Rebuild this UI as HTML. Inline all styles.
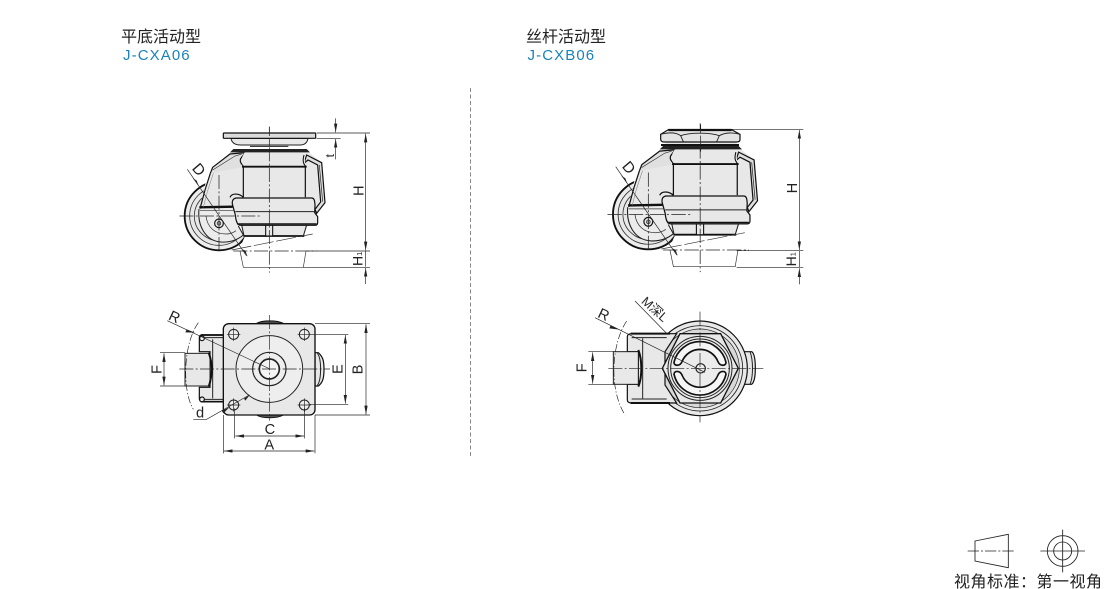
<!DOCTYPE html>
<html><head><meta charset="utf-8"><style>
html,body{margin:0;padding:0;background:#fff}
svg{display:block}
text{font-family:"Liberation Sans","Noto Sans CJK SC",sans-serif}
</style></head><body>
<svg width="1110" height="589" viewBox="0 0 1110 589" xmlns="http://www.w3.org/2000/svg">
<defs>
<marker id="a" markerUnits="userSpaceOnUse" markerWidth="30" markerHeight="12" refX="26" refY="5" orient="auto-start-reverse"><path d="M0,0 L26,5 L0,10 Z" fill="#222"/></marker>
<clipPath id="wc"><path d="M95,205 H170 L150,290 L262,345 L282,385 L262,432 H95 Z"/></clipPath>
<g id="body">
  <!-- wheel -->
  <g clip-path="url(#wc)">
    <circle cx="207" cy="318" r="103" fill="#ececec" stroke="#111" stroke-width="5.5"/>
    <circle cx="207" cy="318" r="88" fill="#e8e8e8" stroke="#333" stroke-width="2.5"/>
    <circle cx="207" cy="318" r="74" fill="#e8e8e8" stroke="#333" stroke-width="2.5"/>
  </g>
  <!-- arm grey mass -->
  <path d="M150,292 L183,188 L240,128 L478,128 L515,158 L525,278 L498,312 L270,346 L250,300 Z" fill="#e8e8e8"/>
  <!-- fork under strip -->
  <path d="M147,295 H248 L268,352 L280,375 C262,392 235,398 210,396 C165,390 142,345 147,295 Z" fill="#ececec"/>
  <path d="M147,297 C142,345 165,392 212,396 C240,398 262,390 280,375" fill="none" stroke="#222" stroke-width="3.2"/>
  <path d="M280,375 L265,348" stroke="#222" stroke-width="3.2"/>
  <path d="M264,404 L283,382" stroke="#222" stroke-width="3"/>
  <path d="M148,292 L248,290" stroke="#111" stroke-width="7"/>
  <path d="M150,302 H250" stroke="#333" stroke-width="2"/>
  <path d="M168,318 C172,352 195,372 228,372 C240,372 250,368 258,362" fill="none" stroke="#333" stroke-width="2.2"/>
  <circle cx="207" cy="340" r="13" fill="#e8e8e8" stroke="#111" stroke-width="3.5"/>
  <circle cx="207" cy="340" r="5.5" fill="#aaa" stroke="#222" stroke-width="2"/>
  <!-- arm outlines -->
  <path d="M150,296 L165,240 L181,190" fill="none" stroke="#111" stroke-width="3.6"/>
  <path d="M160,292 L172,245 L190,190" fill="none" stroke="#777" stroke-width="1.5"/>
  <path d="M181,190 L188,172 L240,132 L285,128 L272,146 C268,155 275,165 285,170" fill="#e0e0e0" stroke="#111" stroke-width="3.6"/>
  <path d="M188,180 L255,138 L275,132" stroke="#333" stroke-width="2" fill="none"/>
  <!-- right clip -->
  <path d="M470,135 L515,158 L525,278 L500,310 L495,298 L512,276 L503,165 L474,150 L462,160 Z" fill="#e0e0e0" stroke="#111" stroke-width="3.6"/>
  <path d="M508,165 L518,275" stroke="#222" stroke-width="2" fill="none"/>
  <!-- neck -->
  <path d="M285,126 C268,150 275,165 285,170 H462 C472,165 458,150 470,126 Z" fill="#e8e8e8"/>
  <path d="M240,127 L250,117 H470 L480,127 Z" fill="#222"/>
  <path d="M280,170 V262 M466,170 V262" stroke="#111" stroke-width="3.6"/>
  <path d="M276,170 H470" stroke="#111" stroke-width="5.5"/>
  <path d="M462,135 C458,150 458,160 468,170" fill="none" stroke="#111" stroke-width="3.2"/>
  <!-- lower -->
  <path d="M275,345 H470 L460,378 H282 Z" fill="#e8e8e8" stroke="#222" stroke-width="3.2"/>
  <path d="M280,378 H463" stroke="#111" stroke-width="5.5"/>
  <rect x="347" y="345" width="21" height="33" fill="#e8e8e8" stroke="#111" stroke-width="3.2"/>
  <!-- band -->
  <path d="M246,278 C246,264 254,262 265,262 H485 C492,262 494,268 495,285 L494,308 L503,320 V340 C503,345 500,346 495,346 H272 C262,346 258,335 256,315 Z" fill="#e8e8e8"/>
  <path d="M240,262 C246,248 268,250 280,262 M256,264 H485 C492,264 494,270 495,285 L494,308 L503,320 V338 C503,345 500,346 495,346 H272 C262,346 258,335 256,315 L247,282 C246,270 250,266 258,264" fill="none" stroke="#111" stroke-width="3.6"/>
  <path d="M256,305 H500" stroke="#222" stroke-width="3"/>
  <path d="M262,342 H500" stroke="#111" stroke-width="4.5"/>
  <!-- centre lines -->
  <path d="M207,195 V425 M88,318 H330" stroke="#222" stroke-width="2.2" stroke-dasharray="42 7 6 7" fill="none"/>
  <path d="M358,50 V488" stroke="#222" stroke-width="2.2" stroke-dasharray="42 7 6 7" fill="none"/>
  <!-- under ground -->
  <path d="M245,420 L488,372" stroke="#333" stroke-width="2" stroke-dasharray="60 8" fill="none"/>
  <path d="M250,423 H500" stroke="#222" stroke-width="2.2" stroke-dasharray="42 7 6 7" fill="none"/>
  <path d="M270,423 L280,472 H460 L468,423" stroke="#333" stroke-width="2" fill="none"/>
  <path d="M112,178 L290,438" stroke="#222" stroke-width="2" fill="none"/>
  <path d="M146,228 L128,204 L140,212 Z" fill="#222"/>
  <path d="M293,440 L277,418 L286,422 Z" fill="#222"/>
</g>
</defs>

<!-- headings -->
<text x="121" y="42" font-size="16" fill="#222">平底活动型</text>
<text x="123" y="60" font-size="15" letter-spacing="1.1" fill="#1c82bb">J-CXA06</text>
<text x="526" y="42" font-size="16" fill="#222">丝杆活动型</text>
<text x="527.5" y="60" font-size="15" letter-spacing="1.1" fill="#1c82bb">J-CXB06</text>

<path d="M470.5,88 V456" stroke="#888" stroke-width="1" stroke-dasharray="4 2.5"/>

<!-- TOP LEFT -->
<g transform="translate(150,110) scale(.33333)">
  <use href="#body"/>
  <path d="M243,85 C245,98 255,105 272,105 H450 C465,105 472,98 474,85 Z" fill="#e8e8e8" stroke="#222" stroke-width="3"/>
  <path d="M300,109 H415" stroke="#222" stroke-width="3"/>
  <rect x="220" y="69" width="277" height="16" rx="2" fill="#dcdcdc" stroke="#111" stroke-width="3.6"/>
  <path d="M358,50 V108" stroke="#222" stroke-width="2.2" stroke-dasharray="28 6" fill="none"/>
  <g stroke="#222" stroke-width="2" fill="none">
    <path d="M500,69 H660 M500,85 H572 M470,423 H660 M460,472 H660"/>
    <path d="M647,71 V421" marker-start="url(#a)" marker-end="url(#a)"/>
    <path d="M647,474 V522" marker-start="url(#a)"/>
    <path d="M647,423 V470"/>
    <path d="M557,25 V67" marker-end="url(#a)"/>
    <path d="M557,87 V148" marker-start="url(#a)"/>
  </g>
  <text transform="translate(640,258) rotate(-90)" font-size="44" fill="#222">H</text>
  <text transform="translate(638,468) rotate(-90)" font-size="42" fill="#222">H<tspan font-size="22" dy="-2">1</tspan></text>
  <text transform="translate(552,142) rotate(-90)" font-size="36" fill="#222">t</text>
  <text transform="translate(124,176) rotate(50)" font-size="46" fill="#222">D</text>
</g>

<!-- TOP RIGHT -->
<g transform="translate(590,115) scale(.33333)">
  <use href="#body" transform="translate(175,298) scale(1.03,1.02) translate(-207,-318)"/>
  <path d="M220,88 L238,80 H440 V88 Z" fill="#e8e8e8"/>
  <path d="M213,90 H447" stroke="#111" stroke-width="6"/>
  <path d="M235,44 H425 L450,58 V74 C450,80 445,81 440,81 H222 C215,81 212,78 212,72 V58 Z" fill="#e4e4e4" stroke="#111" stroke-width="3.6"/>
  <path d="M235,45 H425" stroke="#111" stroke-width="7"/>
  <path d="M212,58 C235,52 258,52 272,62 L280,80 M272,62 C300,52 360,52 388,62 L380,80 M388,62 C405,52 430,52 450,58" fill="none" stroke="#222" stroke-width="2.8"/>
  <path d="M332,28 V110" stroke="#222" stroke-width="2.2" stroke-dasharray="28 6" fill="none"/>
  <g stroke="#222" stroke-width="2" fill="none">
    <path d="M425,43 H640 M440,407 H640 M440,458 H640"/>
    <path d="M628,45 V405" marker-start="url(#a)" marker-end="url(#a)"/>
    <path d="M628,460 V508" marker-start="url(#a)"/>
    <path d="M628,407 V456"/>
  </g>
  <text transform="translate(621,235) rotate(-90)" font-size="44" fill="#222">H</text>
  <text transform="translate(618,454) rotate(-90)" font-size="42" fill="#222">H<tspan font-size="22" dy="-2">1</tspan></text>
  <text transform="translate(94,155) rotate(50)" font-size="46" fill="#222">D</text>
</g>

<!-- BOTTOM LEFT -->
<g transform="translate(140,300) scale(.33333)">
  <path d="M350,70 C365,60 412,60 430,70 Z M350,345 C365,356 412,356 430,345 Z" fill="#555" stroke="#111" stroke-width="3"/>
  <path d="M525,158 H535 C548,170 552,180 552,208 C552,235 548,248 535,258 H525 Z" fill="#e8e8e8" stroke="#111" stroke-width="3.6"/>
  <path d="M532,160 C545,175 545,240 532,256" fill="none" stroke="#222" stroke-width="3"/>
  <path d="M178,112 C178,106 182,105 188,105 H252 V305 H188 C180,305 178,302 178,296 V262 H210 V155 H178 Z" fill="#e8e8e8" stroke="#111" stroke-width="3.6"/>
  <path d="M188,113 H252 M188,298 H252 M218,118 V295" stroke="#222" stroke-width="3" fill="none"/>
  <path d="M182,105 H250 M182,305 H250" stroke="#111" stroke-width="5"/>
  <circle cx="186" cy="115" r="7" fill="#eee" stroke="#111" stroke-width="3.5"/>
  <circle cx="186" cy="298" r="7" fill="#eee" stroke="#111" stroke-width="3.5"/>
  <rect x="135" y="160" width="75" height="98" fill="#e8e8e8" stroke="#222" stroke-width="3"/>
  <path d="M206,158 C218,190 218,225 206,260" fill="none" stroke="#111" stroke-width="6"/>
  <rect x="250" y="71" width="275" height="274" rx="16" fill="#e8e8e8" stroke="#111" stroke-width="4"/>
  <g fill="#eee" stroke="#222" stroke-width="3">
    <circle cx="281" cy="103" r="15"/><circle cx="493" cy="103" r="15"/>
    <circle cx="281" cy="315" r="15"/><circle cx="493" cy="315" r="15"/>
    <circle cx="388" cy="207" r="100"/>
    <circle cx="388" cy="207" r="50" stroke-width="3.6"/>
    <circle cx="388" cy="207" r="30" fill="#f4f4f4" stroke-width="5"/>
  </g>
  <g stroke="#222" stroke-width="2" fill="none">
    <path d="M261,103 H301 M281,83 V123 M473,103 H513 M493,83 V123 M261,315 H301 M281,295 V335 M473,315 H513 M493,295 V335"/>
    <path d="M118,207 H570 M388,45 V362" stroke-dasharray="42 7 6 7"/>
    <path d="M60,158 H135 M60,258 H135"/>
    <path d="M72,160 V256" marker-start="url(#a)" marker-end="url(#a)"/>
    <path d="M525,71 H690 M525,345 H690 M510,103 H625 M510,313 H625"/>
    <path d="M678,73 V343" marker-start="url(#a)" marker-end="url(#a)"/>
    <path d="M616,105 V311" marker-start="url(#a)" marker-end="url(#a)"/>
    <path d="M250,345 V460 M525,345 V460 M284,325 V415 M494,325 V415"/>
    <path d="M286,408 H492" marker-start="url(#a)" marker-end="url(#a)"/>
    <path d="M252,453 H523" marker-start="url(#a)" marker-end="url(#a)"/>
    <path d="M82,62 L390,207"/>
    <path d="M175,68 C130,130 125,270 160,328" stroke-dasharray="22 6 4 6"/>
    <path d="M160,358 H200 L328,285"/>
  </g>
  <path d="M165,98 L140,88 L136,97 Z" fill="#222"/>
  <path d="M268,322 L245,332 L250,340 Z" fill="#222"/>
  <path d="M330,284 L312,296 L316,302 Z" fill="#222"/>
  <text x="88" y="66" font-size="44" transform="rotate(25 105 50)" fill="#222">R</text>
  <text x="168" y="353" font-size="44" fill="#222">d</text>
  <text x="374" y="402" font-size="44" fill="#222">C</text>
  <text x="373" y="448" font-size="44" fill="#222">A</text>
  <text transform="translate(64,222) rotate(-90)" font-size="44" fill="#222">F</text>
  <text transform="translate(607,222) rotate(-90)" font-size="44" fill="#222">E</text>
  <text transform="translate(668,223) rotate(-90)" font-size="44" fill="#222">B</text>
</g>

<!-- BOTTOM RIGHT -->
<g transform="translate(570,285) scale(.33333)">
  <path d="M510,200 H545 C553,205 556,225 556,250 C556,275 553,292 545,298 H510 Z" fill="#e8e8e8" stroke="#111" stroke-width="3.6"/>
  <path d="M540,200 C550,225 550,275 540,298" fill="none" stroke="#222" stroke-width="3"/>
  <circle cx="390" cy="250" r="142" fill="#e8e8e8" stroke="#111" stroke-width="3.6"/>
  <circle cx="390" cy="250" r="128" fill="#e8e8e8" stroke="#222" stroke-width="2.6"/>
  <circle cx="390" cy="250" r="118" fill="#d8d8d8" stroke="#222" stroke-width="2"/>
  <path d="M172,155 C172,148 178,146 185,146 H320 L285,200 V300 L320,354 H185 C178,354 172,352 172,345 V298 H205 V200 H172 Z" fill="#e8e8e8" stroke="#111" stroke-width="3.6"/>
  <path d="M182,146 H300 M182,354 H300" stroke="#111" stroke-width="6"/>
  <path d="M185,158 H290 M185,342 H290 M218,160 V340" stroke="#222" stroke-width="3" fill="none"/>
  <rect x="130" y="200" width="75" height="98" fill="#e8e8e8" stroke="#222" stroke-width="3"/>
  <path d="M205,195 C217,225 217,275 205,305" fill="none" stroke="#111" stroke-width="6"/>
  <path d="M330,146 H452 L505,250 L452,354 H330 L277,250 Z" fill="#e8e8e8" stroke="#111" stroke-width="4"/>
  <circle cx="390" cy="250" r="96" fill="#e8e8e8" stroke="#222" stroke-width="3"/>
  <circle cx="390" cy="250" r="88" fill="#ececec" stroke="#222" stroke-width="3"/>
  <path d="M312,232 A80,80 0 0 1 468,232 C468,244 450,244 444,230 A58,58 0 0 0 336,230 C330,244 312,244 312,232 Z" fill="#f6f6f6" stroke="#111" stroke-width="5"/>
  <path d="M312,268 A80,80 0 0 0 468,268 C468,256 450,256 444,270 A58,58 0 0 1 336,270 C330,256 312,256 312,268 Z" fill="#f6f6f6" stroke="#111" stroke-width="5"/>
  <circle cx="392" cy="250" r="14" fill="#eee" stroke="#222" stroke-width="3.6"/>
  <g stroke="#222" stroke-width="2" fill="none">
    <path d="M115,250 H580 M390,80 V412" stroke-dasharray="42 7 6 7"/>
    <path d="M55,200 H130 M55,298 H130"/>
    <path d="M68,202 V296" marker-start="url(#a)" marker-end="url(#a)"/>
    <path d="M75,98 L405,262"/>
    <path d="M195,48 L290,145"/>
    <path d="M170,108 C125,175 115,310 165,390" stroke-dasharray="22 6 4 6"/>
  </g>
  <path d="M148,134 L122,121 L118,130 Z" fill="#222"/>
  <text x="85" y="105" font-size="44" transform="rotate(25 105 90)" fill="#222">R</text>
  <text transform="translate(50,262) rotate(-90)" font-size="44" fill="#222">F</text>
  <text transform="translate(212,52) rotate(42)" font-size="38" fill="#222">M深L</text>
</g>

<!-- projection symbol -->
<g transform="translate(945,525) scale(.33333)" stroke="#222" stroke-width="2.6" fill="none">
  <path d="M90,48 L190,28 V128 L90,108 Z" fill="#fff"/>
  <path d="M68,78 H210" stroke-dasharray="34 6 6 6"/>
  <circle cx="353" cy="78" r="46"/>
  <circle cx="353" cy="78" r="27"/>
  <path d="M286,78 H420 M353,14 V142"/>
</g>
<text x="954" y="587" font-size="16" letter-spacing=".5" fill="#222">视角标准：第一视角</text>
</svg>
</body></html>
